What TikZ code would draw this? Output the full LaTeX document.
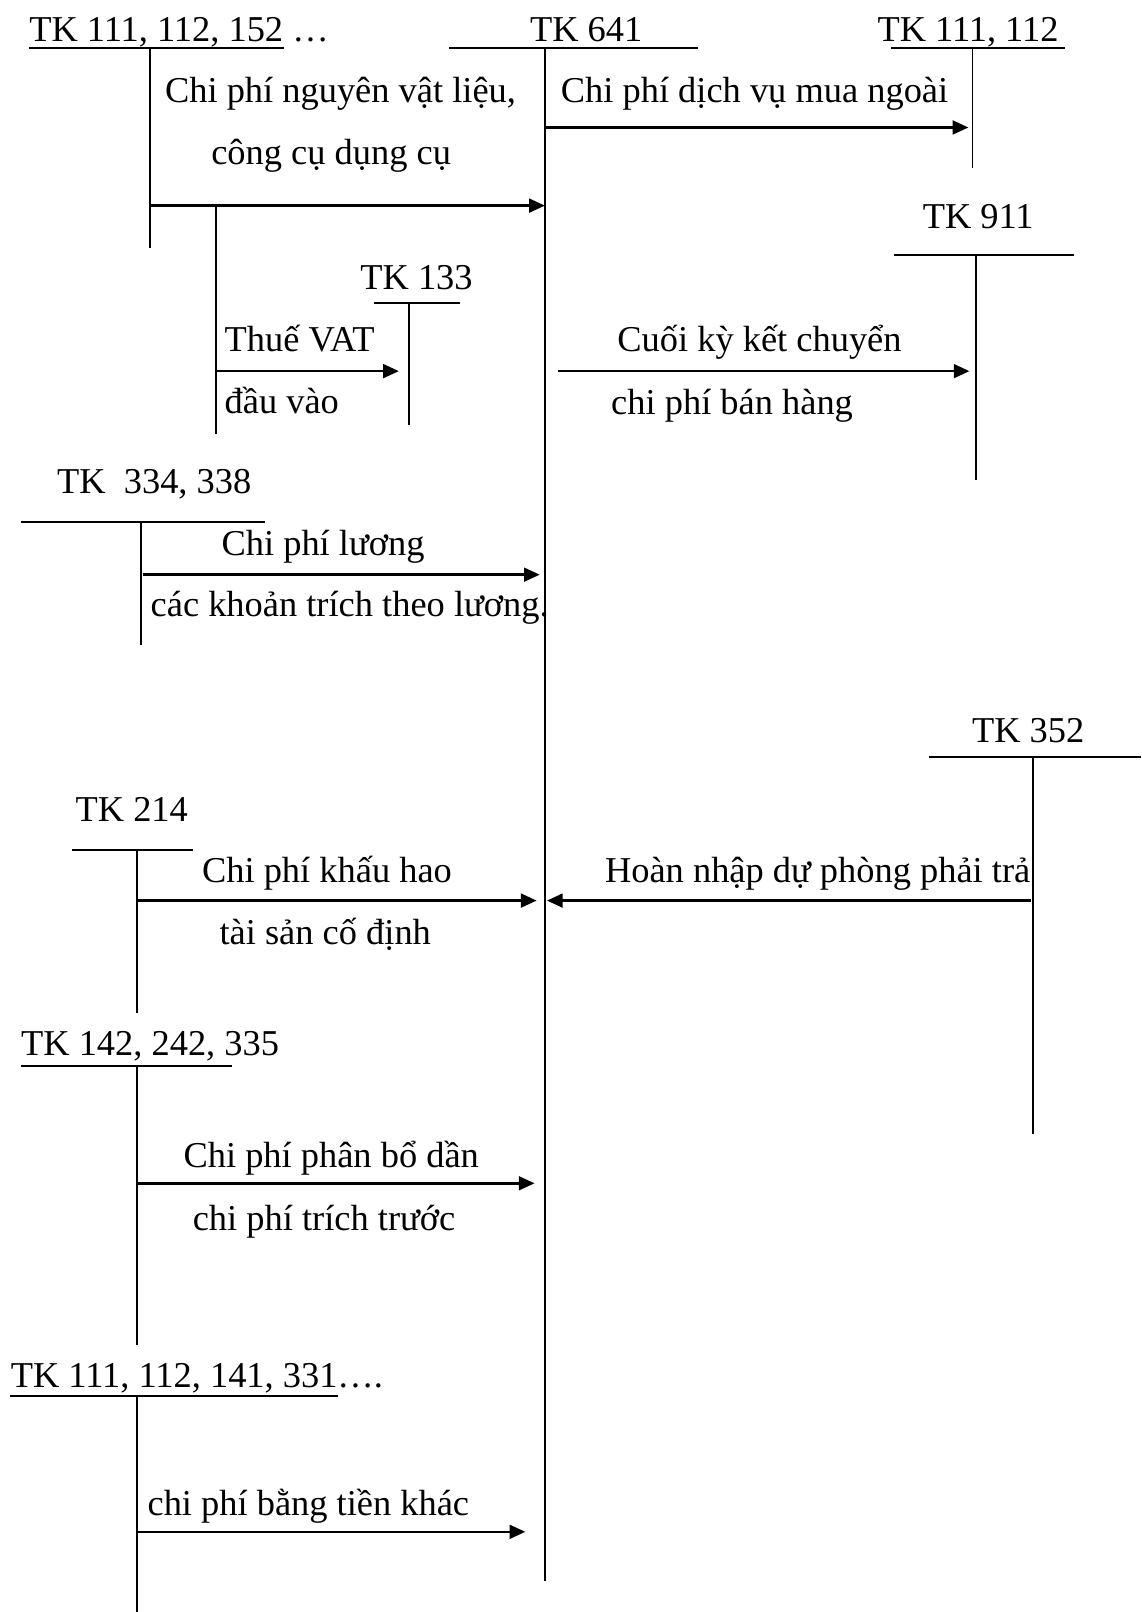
\documentclass[tikz,border=0pt]{standalone}
\usepackage{fontspec}
\setmainfont{Liberation Serif}
\usetikzlibrary{arrows.meta}

\begin{document}
\begin{tikzpicture}[x=0.36pt,y=-0.36pt,
    txt/.style={anchor=base west,inner sep=0pt,font=\fontsize{12.75}{15}\selectfont},
    tline/.style={line width=0.6pt},
    arr/.style={line width=0.9pt,-{Triangle[length=5.5pt,width=4.8pt]}}]
    \useasboundingbox (0,0) rectangle (1110,1568);

    % TK 641 (centre account)
    \node[txt] (t641) at (515,40) {TK 641};
    \coordinate (a641) at (530,47);
    \draw[tline] (437,47) -- (679,47);
    \draw[tline] (a641) -- (530,1538);

    % TK 111, 112, 152 ...
    \node[txt] (t152) at (28,40) {TK 111, 112, 152 …};
    \coordinate (a152) at (146,47);
    \coordinate (b152) at (146,200);
    \coordinate (e152) at (530,200);
    \draw[tline] (28,47) -- (276,47);
    \draw[tline] (a152) -- (146,241);
    \node[txt] (nvl1) at (160,100) {Chi phí nguyên vật liệu,};
    \node[txt] (nvl2) at (205,160) {công cụ dụng cụ};
    \draw[arr] (b152) -- (e152);

    % TK 133
    \node[txt] (t133) at (350,282) {TK 133};
    \coordinate (b133) at (210,361);
    \coordinate (e133) at (388,361);
    \draw[tline] (364,295) -- (447,295);
    \draw[tline] (398,295) -- (398,413);
    \draw[tline] (210,200) -- (210,422);
    \node[txt] (vat1) at (218,342) {Thuế VAT};
    \node[txt] (vat2) at (218,402) {đầu vào};
    \draw[arr] (b133) -- (e133);

    % TK 111, 112
    \node[txt] (t112) at (853,40) {TK 111, 112};
    \coordinate (b112) at (530,124);
    \coordinate (e112) at (942,124);
    \draw[tline] (867,47) -- (1036,47);
    \draw[tline] (946,47) -- (946,163);
    \node[txt] (dv) at (545,100) {Chi phí dịch vụ mua ngoài};
    \draw[arr] (b112) -- (e112);

    % TK 911
    \node[txt] (t911) at (897,222) {TK 911};
    \coordinate (b911) at (543,361);
    \coordinate (e911) at (943,361);
    \draw[tline] (870,248) -- (1045,248);
    \draw[tline] (949,248) -- (949,467);
    \node[txt] (kc1) at (600,342) {Cuối kỳ kết chuyển};
    \node[txt] (kc2) at (594,403) {chi phí bán hàng};
    \draw[arr] (b911) -- (e911);

    % TK 334, 338
    \node[txt] (t334) at (55,480) {TK~ 334, 338};
    \coordinate (b334) at (139,559);
    \coordinate (e334) at (525,559);
    \draw[tline] (20,508) -- (258,508);
    \draw[tline] (137,508) -- (137,627);
    \node[txt] (lg1) at (215,540) {Chi phí lương};
    \node[txt] (lg2) at (146,600) {các khoản trích theo lương.};
    \draw[arr] (b334) -- (e334);

    % TK 352
    \node[txt] (t352) at (945,722) {TK 352};
    \coordinate (b352) at (1003,876);
    \coordinate (e352) at (532,876);
    \draw[tline] (904,736) -- (1110,736);
    \draw[tline] (1005,736) -- (1005,1103);
    \node[txt] (hn) at (588,858) {Hoàn nhập dự phòng phải trả};
    \draw[arr] (b352) -- (e352);

    % TK 214
    \node[txt] (t214) at (73,799) {TK 214};
    \coordinate (b214) at (133,876);
    \coordinate (e214) at (522,876);
    \draw[tline] (70,827) -- (188,827);
    \draw[tline] (133,827) -- (133,985);
    \node[txt] (kh1) at (196,858) {Chi phí khấu hao};
    \node[txt] (kh2) at (213,919) {tài sản cố định};
    \draw[arr] (b214) -- (e214);

    % TK 142, 242, 335
    \node[txt] (t142) at (20,1027) {TK 142, 242, 335};
    \coordinate (b142) at (133,1151);
    \coordinate (e142) at (520,1151);
    \draw[tline] (20,1037) -- (226,1037);
    \draw[tline] (133,1037) -- (133,1308);
    \node[txt] (pb1) at (178,1136) {Chi phí phân bổ dần};
    \node[txt] (pb2) at (187,1197) {chi phí trích trước};
    \draw[arr] (b142) -- (e142);

    % TK 111, 112, 141, 331 ...
    \node[txt] (t331) at (10,1350) {TK 111, 112, 141, 331….};
    \coordinate (b331) at (133,1490);
    \coordinate (e331) at (511,1490);
    \draw[tline] (10,1358) -- (329,1358);
    \draw[tline] (133,1358) -- (133,1568);
    \node[txt] (kt) at (143,1474) {chi phí bằng tiền khác};
    \draw[arr] (b331) -- (e331);
\end{tikzpicture}
\end{document}
